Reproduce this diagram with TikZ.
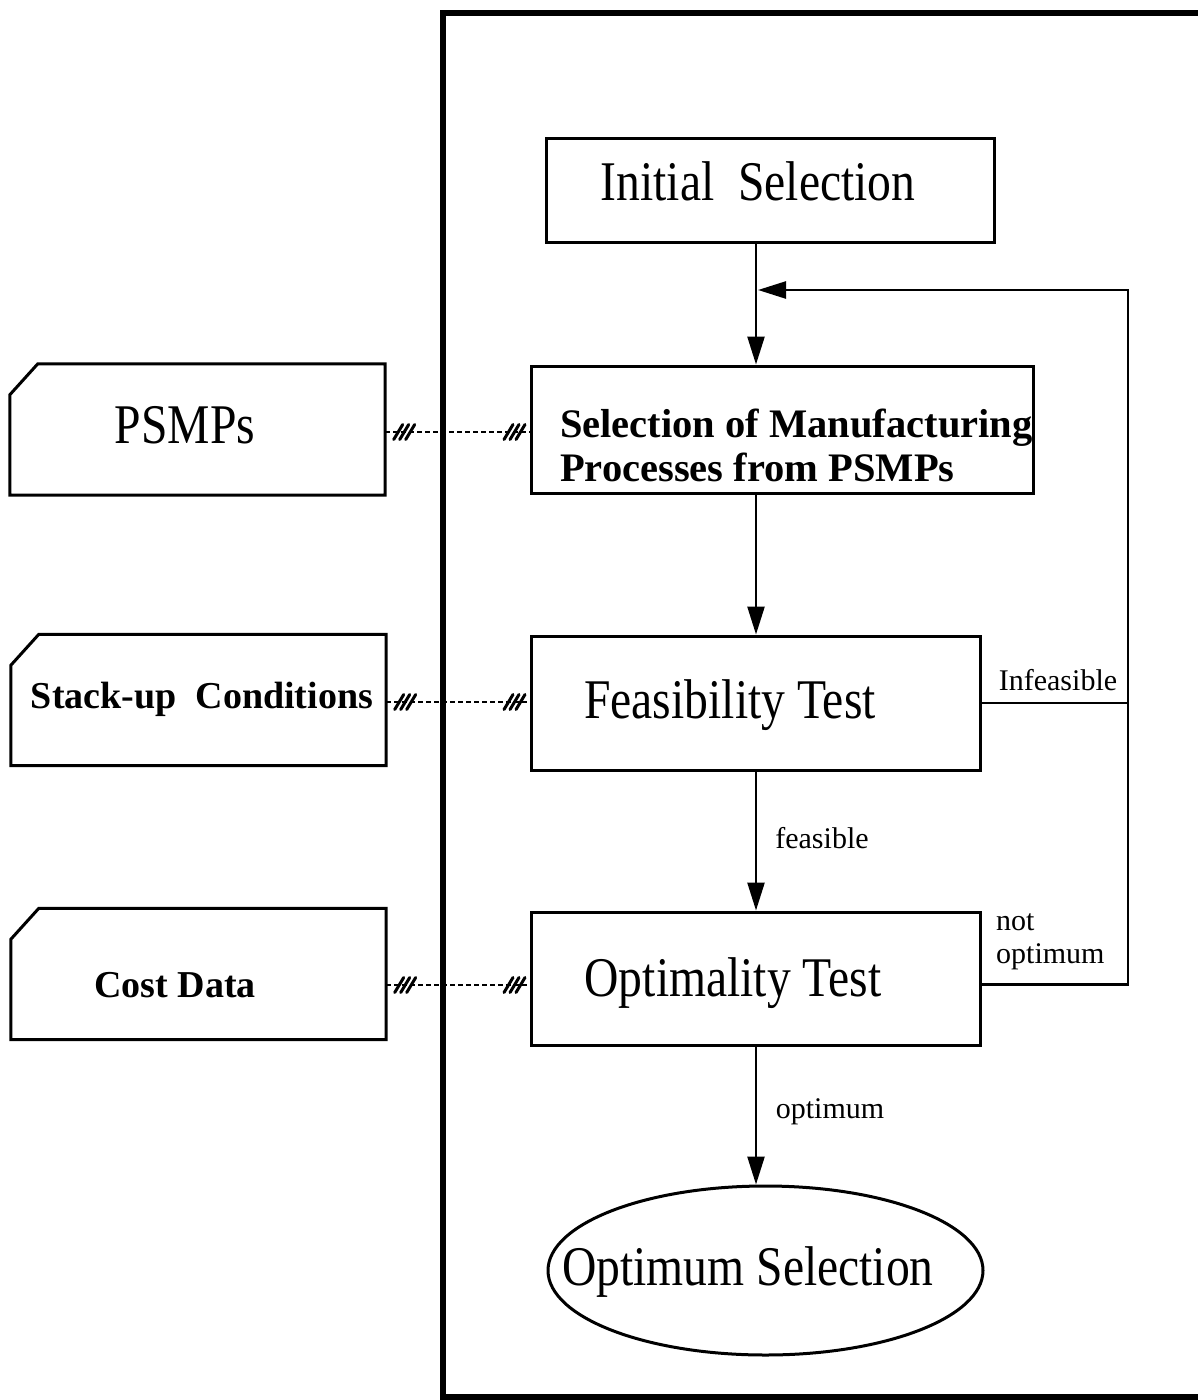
\documentclass[tikz,border=0pt]{standalone}
\usepackage{fontspec}
\setmainfont{Liberation Serif}
\newfontfamily\narrowfont[FakeStretch=0.85]{Liberation Serif}
\usetikzlibrary{arrows.meta,shapes.geometric,calc}
\begin{document}
\begin{tikzpicture}[x=1pt,y=-1pt,
  boxnode/.style={draw,line width=3pt,inner sep=0pt},
  cardbox/.style={inner sep=0pt,minimum width=375pt,minimum height=131pt},
  cardline/.style={line width=3pt,line join=miter},
  bigtext/.style={inner sep=0pt,font=\narrowfont\fontsize{56}{60}\selectfont},
  boldtext/.style={inner sep=0pt,font=\bfseries\fontsize{40.5}{44}\selectfont},
  smalltext/.style={inner sep=0pt,font=\fontsize{30}{33}\selectfont},
  flow/.style={line width=2.5pt,-{Triangle[length=28pt,width=17pt]}},
  plainline/.style={line width=2.5pt},
  dotline/.style={line width=2.5pt,dash pattern=on 5pt off 3pt},
  hatch/.pic={\foreach \d in {-6,0,6} \draw[line width=3pt,line cap=round] (\d-4.5,7.5) -- (\d+4.5,-7.5);},
]
\useasboundingbox (0,0) rectangle (1198,1400);
\clip (0,0) rectangle (1198,1400);
\fill[white] (0,0) rectangle (1198,1400);

% outer frame
\node[draw,line width=5.5pt,inner sep=0pt,minimum width=800pt,minimum height=1384pt,anchor=north west] (frame) at (440,10) {};

% main flow boxes
\node[boxnode,minimum width=448pt,minimum height=104pt] (init) at (770,190) {};
\node[bigtext] (initT) at (758,181) {Initial\ \ Selection};

\node[boxnode,minimum width=502pt,minimum height=127pt] (sel) at (782,429.5) {};
\node[boldtext,anchor=west,align=left] (selT) at (560,445) {Selection of Manufacturing\\Processes from PSMPs};

\node[boxnode,minimum width=449pt,minimum height=134pt] (feas) at (755.5,703) {};
\node[bigtext] (feasT) at (730,705) {Feasibility Test};

\node[boxnode,minimum width=449pt,minimum height=133pt] (optb) at (755.5,978.5) {};
\node[bigtext] (optbT) at (733,983) {Optimality Test};

\node[draw,ellipse,line width=3pt,inner sep=0pt,minimum width=435pt,minimum height=169pt] (optsel) at (765.5,1270.5) {};
\node[bigtext] (optselT) at (748,1272) {Optimum Selection};

% data cards
\node[cardbox] (psmp) at (197.5,429.5) {};
\node[cardbox] (stack) at (198.5,700) {};
\node[cardbox] (cost) at (198.5,974) {};
\foreach \c in {psmp,stack,cost}
  \draw[cardline] ([yshift=-31pt]\c.north west) -- ([xshift=28pt]\c.north west) -- (\c.north east) -- (\c.south east) -- (\c.south west) -- cycle;
\node[bigtext] (psmpT) at (185,425) {PSMPs};
\node[boldtext,font=\bfseries\fontsize{38}{42}\selectfont] (stackT) at (202,699) {Stack-up\ \ Conditions};
\node[boldtext,font=\bfseries\fontsize{38}{42}\selectfont] (costT) at (175,985) {Cost Data};

% dotted data links with hatch marks
\coordinate (l1) at (0,432);
\coordinate (l2) at (0,702);
\coordinate (l3) at (0,985);
\draw[dotline] (psmp.east |- l1) -- (sel.west |- l1);
\draw[dotline] (stack.east |- l2) -- (feas.west |- l2);
\draw[dotline] (cost.east |- l3) -- (optb.west |- l3);
\pic at ($(psmp.east |- l1)+(19,0)$) {hatch};
\pic at ($(sel.west |- l1)+(-15,0)$) {hatch};
\pic at ($(stack.east |- l2)+(19,0)$) {hatch};
\pic at ($(feas.west |- l2)+(-15,0)$) {hatch};
\pic at ($(cost.east |- l3)+(19,0)$) {hatch};
\pic at ($(optb.west |- l3)+(-15,0)$) {hatch};

% flow arrows
\coordinate (ax) at (756,0);
\coordinate (fbx) at (1128,0);
\coordinate (fby) at (0,290);
\draw[flow] (init.south -| ax) -- (sel.north -| ax);
\draw[flow] (sel.south -| ax) -- (feas.north -| ax);
\draw[flow] (feas.south -| ax) -- (optb.north -| ax);
\draw[flow] (optb.south -| ax) -- (optsel.north -| ax);

% feedback loop
\draw[plainline] (feas.east) -- (feas.east -| fbx);
\draw[flow] ([yshift=-6pt]optb.east) -| (fbx |- fby) -- ([xshift=2pt]ax |- fby);

% labels
\node[smalltext] (infL) at (1058,680) {Infeasible};
\node[smalltext] (feasL) at (822,838) {feasible};
\node[smalltext,align=left,anchor=west] (notL) at (996,942) {not\\optimum};
\node[smalltext] (optL) at (830,1112) {optimum};
\end{tikzpicture}
\end{document}
